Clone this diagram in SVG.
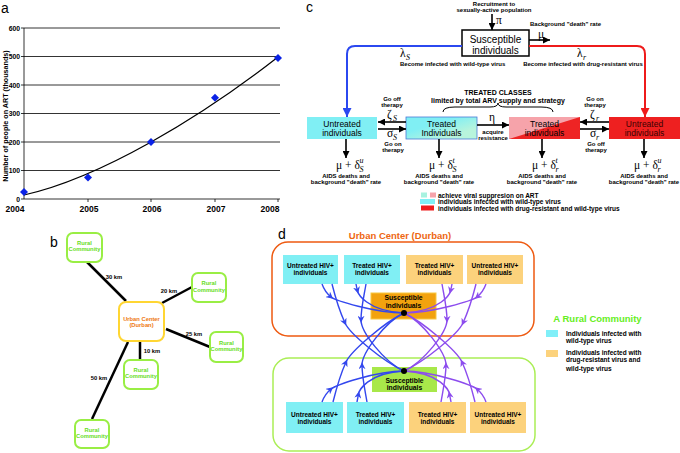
<svg xmlns="http://www.w3.org/2000/svg" width="680" height="453" viewBox="0 0 680 453">
<style>
text{font-family:"Liberation Sans",Arial,sans-serif;fill:#000}
.lbl{font-size:14px}
.bd{font-weight:bold}
.s6{font-size:6px;font-weight:bold}
.s65{font-size:6.5px;font-weight:bold}
.s7{font-size:7px;font-weight:bold}
.box8{font-size:8.5px}
.gr{font-family:"Liberation Serif","Times New Roman",serif;font-size:11.5px}
.gs{font-family:"Liberation Serif","Times New Roman",serif;font-size:8px;font-style:italic}
.mid{text-anchor:middle}
.rural{font-size:5.8px;font-weight:bold;fill:#66dd22;text-anchor:middle}
.urb{font-size:5.8px;font-weight:bold;fill:#ee7711;text-anchor:middle}
.km{font-size:5.8px;font-weight:bold;text-anchor:middle}
.dbox{font-size:6.5px;font-weight:bold;text-anchor:middle}
.grid{stroke:#000;stroke-width:0.8}
.ln{stroke:#000;stroke-width:2.5}
.rbox{fill:#fff;stroke:#99ee44;stroke-width:2}
.blk{stroke:#000;stroke-width:1.6;fill:none;marker-end:url(#ahK)}
.bc{stroke:#3347ee;stroke-width:1.4;fill:none;marker-mid:url(#amB)}
.pc{stroke:#8c4cee;stroke-width:1.4;fill:none;marker-mid:url(#amP)}
.cy{fill:#80eff4}
.or{fill:#fcd27c}
</style>
<defs>
<marker id="ahK" viewBox="0 0 10 10" refX="10" refY="5" markerWidth="7" markerHeight="7" markerUnits="userSpaceOnUse" orient="auto"><path d="M0,0 L10,5 L0,10 Z" fill="#000"/></marker>
<marker id="ahB" viewBox="0 0 10 10" refX="10" refY="5" markerWidth="9" markerHeight="9" markerUnits="userSpaceOnUse" orient="auto"><path d="M0,0 L10,5 L0,10 Z" fill="#2b48f0"/></marker>
<marker id="ahR" viewBox="0 0 10 10" refX="10" refY="5" markerWidth="9" markerHeight="9" markerUnits="userSpaceOnUse" orient="auto"><path d="M0,0 L10,5 L0,10 Z" fill="#ee1b1b"/></marker>
<marker id="amB" viewBox="0 0 10 10" refX="6" refY="5" markerWidth="7" markerHeight="7" markerUnits="userSpaceOnUse" orient="auto"><path d="M0,0 L10,5 L0,10 L3,5 Z" fill="#3347ee"/></marker>
<marker id="amP" viewBox="0 0 10 10" refX="6" refY="5" markerWidth="7" markerHeight="7" markerUnits="userSpaceOnUse" orient="auto"><path d="M0,0 L10,5 L0,10 L3,5 Z" fill="#8c4cee"/></marker>
<path id="dia" d="M0,-4 L4,0 L0,4 L-4,0 Z" fill="#0a22e6"/>
<linearGradient id="gT" x1="0" y1="0" x2="1" y2="1"><stop offset="0.35" stop-color="#80eff4"/><stop offset="0.75" stop-color="#b8f4dc"/></linearGradient>
</defs>
<rect width="680" height="453" fill="#fff"/>

<!-- Panel a -->
<g id="panel-a">
<text x="1" y="13" class="lbl">a</text>
<g class="grid">
<line x1="24" y1="28" x2="280" y2="28"/>
<line x1="24" y1="56.5" x2="280" y2="56.5"/>
<line x1="24" y1="85" x2="280" y2="85"/>
<line x1="24" y1="113.5" x2="280" y2="113.5"/>
<line x1="24" y1="142" x2="280" y2="142"/>
<line x1="24" y1="170.5" x2="280" y2="170.5"/>
<line x1="24" y1="28" x2="24" y2="199"/>
<line x1="24" y1="199" x2="280" y2="199"/>
<line x1="21" y1="28" x2="24" y2="28"/><line x1="21" y1="56.5" x2="24" y2="56.5"/><line x1="21" y1="85" x2="24" y2="85"/><line x1="21" y1="113.5" x2="24" y2="113.5"/><line x1="21" y1="142" x2="24" y2="142"/><line x1="21" y1="170.5" x2="24" y2="170.5"/><line x1="21" y1="199" x2="24" y2="199"/>
<line x1="88" y1="199" x2="88" y2="202"/><line x1="151" y1="199" x2="151" y2="202"/><line x1="215" y1="199" x2="215" y2="202"/><line x1="278" y1="199" x2="278" y2="202"/>
</g>
<g style="font-size:6.8px;font-weight:bold;text-anchor:end">
<text x="20" y="30.5">600</text><text x="20" y="59">500</text><text x="20" y="87.5">400</text><text x="20" y="116">300</text><text x="20" y="144.5">200</text><text x="20" y="173">100</text><text x="20" y="201.5">0</text>
</g>
<g style="font-size:8.5px;font-weight:bold;text-anchor:middle">
<text x="15" y="212">2004</text><text x="89" y="212">2005</text><text x="152" y="212">2006</text><text x="216" y="212">2007</text><text x="270" y="212">2008</text>
</g>
<text transform="translate(8,116) rotate(-90)" style="font-size:7.2px;font-weight:bold;text-anchor:middle">Number of people on ART (thousands)</text>
<path d="M24,195 C100,178 200,118 278,57" fill="none" stroke="#000" stroke-width="1.2"/>
<use href="#dia" x="24" y="192"/><use href="#dia" x="88" y="177.6"/><use href="#dia" x="151" y="142"/><use href="#dia" x="215" y="97.8"/><use href="#dia" x="278" y="57.9"/>
</g>

<!-- Panel b -->
<g id="panel-b">
<text x="50" y="247" class="lbl">b</text>
<g id="b-connectors">
<line class="ln" x1="87" y1="262" x2="126" y2="301"/>
<line class="ln" x1="162" y1="303" x2="192" y2="287"/>
<line class="ln" x1="166" y1="329" x2="210" y2="347"/>
<line class="ln" x1="140" y1="342" x2="140" y2="359"/>
<line class="ln" x1="128" y1="342" x2="92" y2="419"/>
<text x="114" y="279" class="km">30 km</text>
<text x="169" y="293" class="km">20 km</text>
<text x="194" y="336" class="km">25 km</text>
<text x="152" y="353" class="km">10 km</text>
<text x="99" y="379.5" class="km">50 km</text>
</g>
<g id="b-urban"><rect x="119" y="302" width="45" height="39" rx="7" fill="#fff" stroke="#ffd633" stroke-width="2"/><text x="141.5" y="320.5" class="urb">Urban Center</text><text x="141.5" y="327" class="urb">(Durban)</text></g>
<g id="b-rural1"><rect x="67" y="233" width="35" height="29" rx="6" class="rbox"/><text x="84.5" y="244.5" class="rural">Rural</text><text x="84.5" y="250.5" class="rural">Community</text></g>
<g id="b-rural2"><rect x="192" y="273" width="34" height="29" rx="6" class="rbox"/><text x="209" y="285" class="rural">Rural</text><text x="209" y="291.5" class="rural">Community</text></g>
<g id="b-rural3"><rect x="210" y="332" width="33" height="30" rx="6" class="rbox"/><text x="226.5" y="345" class="rural">Rural</text><text x="226.5" y="351" class="rural">Community</text></g>
<g id="b-rural4"><rect x="124" y="360" width="34" height="29" rx="6" class="rbox"/><text x="141" y="372" class="rural">Rural</text><text x="141" y="378" class="rural">Community</text></g>
<g id="b-rural5"><rect x="75" y="420" width="34" height="28" rx="6" class="rbox"/><text x="92" y="432" class="rural">Rural</text><text x="92" y="438" class="rural">Community</text></g>
</g>

<!-- Panel c -->
<g id="panel-c">
<text x="306" y="12" class="lbl">c</text>
<text x="494" y="5.5" class="s6 mid">Recruitment to</text>
<text x="494" y="12" class="s6 mid">sexually-active population</text>
<text x="530" y="26" class="s6">Background "death" rate</text>
<text x="400" y="66" class="s6">Become infected with wild-type virus</text>
<text x="583" y="65.5" class="s6 mid">Become infected with drug-resistant virus</text>
<text x="498" y="94.5" class="s7 mid">TREATED CLASSES</text>
<text x="498" y="102.5" class="s7 mid">limited by total ARV supply and strategy</text>
<path d="M443,112 Q443,107 455,107 H490 Q498,107 498,103 Q498,107 506,107 H541 Q553,107 553,112" fill="none" stroke="#000" stroke-width="1"/>

<g id="c-susceptible"><rect x="462" y="30" width="67" height="26" fill="#fff" stroke="#000" stroke-width="1.5"/><text x="495.5" y="43" class="mid" style="font-size:10px">Susceptible</text><text x="495.5" y="53.5" class="mid" style="font-size:10px">individuals</text></g>
<g id="c-untreated-s"><rect x="307" y="117" width="70" height="22" fill="#80eff4"/><text x="342" y="127" class="box8 mid">Untreated</text><text x="342" y="135.5" class="box8 mid">individuals</text></g>
<g id="c-treated-s"><rect x="406" y="117" width="71" height="22" fill="url(#gT)" stroke="#4a7ad8" stroke-width="0.8"/><text x="441.5" y="127" class="box8 mid">Treated</text><text x="441.5" y="135.5" class="box8 mid">Individuals</text></g>
<g id="c-treated-r"><rect x="509" y="117" width="71" height="22" fill="#f6a3aa"/><path d="M580,117 L580,139 L509,139 Z" fill="#ee2424"/><text x="544.5" y="127" class="box8 mid">Treated</text><text x="544.5" y="135.5" class="box8 mid">individuals</text></g>
<g id="c-untreated-r"><rect x="609" y="117" width="71" height="22" fill="#ee2020"/><text x="644.5" y="127" class="box8 mid" style="fill:#3a0000">Untreated</text><text x="644.5" y="135.5" class="box8 mid" style="fill:#3a0000">individuals</text></g>

<g id="c-connectors">
<path d="M462,46 H355 Q347,46 347,54 V117" stroke="#2b48f0" stroke-width="2" fill="none" marker-end="url(#ahB)"/>
<path d="M529,46 H637 Q645,46 645,54 V117" stroke="#ee1b1b" stroke-width="2" fill="none" marker-end="url(#ahR)"/>
<path class="blk" d="M492,14 V30"/>
<path class="blk" d="M529,40 H550"/>
<path class="blk" d="M406,122 H378"/>
<path class="blk" d="M378,129 H406"/>
<path class="blk" d="M477,125 H509"/>
<path class="blk" d="M609,122 H580"/>
<path class="blk" d="M580,129 H609"/>
<path class="blk" d="M346,139 V158"/>
<path class="blk" d="M439,139 V158"/>
<path class="blk" d="M542,139 V158"/>
<path class="blk" d="M644,139 V158"/>
</g>
<text x="496" y="24" class="gr">π</text>
<text x="538" y="37.5" class="gr">μ</text>
<text x="400" y="57" class="gr">λ</text><text x="406" y="60" class="gs">S</text>
<text x="577" y="57" class="gr">λ</text><text x="583" y="60" class="gs">r</text>
<text x="392" y="101" class="s6 mid">Go off</text><text x="392" y="107" class="s6 mid">therapy</text>
<text x="387" y="118" class="gr">ζ</text><text x="393" y="121" class="gs">S</text>
<text x="387" y="137" class="gr">σ</text><text x="393" y="140" class="gs">S</text>
<text x="393" y="146" class="s6 mid">Go on</text><text x="393" y="152" class="s6 mid">therapy</text>
<text x="489" y="121" class="gr">η</text>
<text x="493" y="133.5" class="s6 mid">acquire</text><text x="493" y="139.5" class="s6 mid">resistance</text>
<text x="595" y="101" class="s6 mid">Go on</text><text x="595" y="107" class="s6 mid">therapy</text>
<text x="590" y="118" class="gr">ζ</text><text x="596" y="121" class="gs">r</text>
<text x="590" y="137" class="gr">σ</text><text x="596" y="140" class="gs">r</text>
<text x="596" y="146" class="s6 mid">Go off</text><text x="596" y="152" class="s6 mid">therapy</text>

<text x="336" y="169" class="gr">μ + δ</text><text x="359.5" y="163" class="gs">u</text><text x="359.5" y="172" class="gs">S</text>
<text x="429" y="169" class="gr">μ + δ</text><text x="452.5" y="163" class="gs">t</text><text x="452.5" y="172" class="gs">S</text>
<text x="532" y="169" class="gr">μ + δ</text><text x="555.5" y="163" class="gs">t</text><text x="555.5" y="172" class="gs">r</text>
<text x="634" y="169" class="gr">μ + δ</text><text x="657.5" y="163" class="gs">u</text><text x="657.5" y="172" class="gs">r</text>
<text x="346" y="177.5" class="s6 mid">AIDS deaths and</text><text x="346" y="183.5" class="s6 mid">background "death" rate</text>
<text x="439" y="177.5" class="s6 mid">AIDS deaths and</text><text x="439" y="183.5" class="s6 mid">background "death" rate</text>
<text x="542" y="177.5" class="s6 mid">AIDS deaths and</text><text x="542" y="183.5" class="s6 mid">background "death" rate</text>
<text x="644" y="177.5" class="s6 mid">AIDS deaths and</text><text x="644" y="183.5" class="s6 mid">background "death" rate</text>

<g id="c-legend">
<rect x="421" y="192.5" width="6" height="5" fill="#a8f2e0"/><rect x="430" y="192.5" width="6" height="5" fill="#f6a3aa"/>
<text x="438" y="197.5" class="s65">achieve viral suppresion on ART</text>
<rect x="420" y="199" width="15" height="5" fill="#80eff4"/>
<text x="438" y="204" class="s65">individuals infected with wild-type virus</text>
<rect x="421" y="205.5" width="13" height="5" fill="#ee1b1b"/>
<text x="438" y="210.5" class="s65">individuals infected with drug-resistant and wild-type virus</text>
</g>
</g>

<!-- Panel d -->
<g id="panel-d">
<text x="278" y="239" class="lbl">d</text>
<g id="d-urban-center"><rect x="272" y="242" width="262" height="94" rx="16" fill="none" stroke="#ee5a11" stroke-width="1.5"/><text x="400" y="239" class="mid bd" style="font-size:9.5px;fill:#ee6611">Urban Center (Durban)</text></g>
<g id="d-rural-community"><rect x="273" y="358" width="262" height="93" rx="16" fill="none" stroke="#aaee55" stroke-width="1.5"/></g>

<g id="d-u-untreated-wt"><rect x="283" y="255" width="55" height="29" class="cy"/><text x="310.5" y="268" class="dbox">Untreated HIV+</text><text x="310.5" y="275" class="dbox">individuals</text></g>
<g id="d-u-treated-wt"><rect x="344" y="255" width="56" height="29" class="cy"/><text x="372" y="268" class="dbox">Treated HIV+</text><text x="372" y="275" class="dbox">individuals</text></g>
<g id="d-u-treated-dr"><rect x="406" y="255" width="57" height="29" class="or"/><text x="434.5" y="268" class="dbox">Treated HIV+</text><text x="434.5" y="275" class="dbox">individuals</text></g>
<g id="d-u-untreated-dr"><rect x="467" y="255" width="56" height="29" class="or"/><text x="495" y="268" class="dbox">Untreated HIV+</text><text x="495" y="275" class="dbox">individuals</text></g>
<g id="d-u-susceptible"><rect x="371" y="293" width="65" height="26" fill="#f2a20e" stroke="#f8c840" stroke-width="1"/><text x="403.5" y="300" class="dbox" style="font-size:6.8px">Susceptible</text><text x="403.5" y="307.5" class="dbox" style="font-size:6.8px">individuals</text></g>

<g id="d-r-untreated-wt"><rect x="286" y="402" width="57" height="31" class="cy"/><text x="314.5" y="416.5" class="dbox">Untreated HIV+</text><text x="314.5" y="423.5" class="dbox">individuals</text></g>
<g id="d-r-treated-wt"><rect x="347" y="402" width="57" height="31" class="cy"/><text x="375.5" y="416.5" class="dbox">Treated HIV+</text><text x="375.5" y="423.5" class="dbox">individuals</text></g>
<g id="d-r-treated-dr"><rect x="409" y="402" width="57" height="31" class="or"/><text x="437.5" y="416.5" class="dbox">Treated HIV+</text><text x="437.5" y="423.5" class="dbox">individuals</text></g>
<g id="d-r-untreated-dr"><rect x="470" y="402" width="56" height="31" class="or"/><text x="498" y="416.5" class="dbox">Untreated HIV+</text><text x="498" y="423.5" class="dbox">individuals</text></g>
<g id="d-r-susceptible"><rect x="372" y="367" width="65" height="25" fill="#a8e84a"/><text x="404.5" y="382.5" class="dbox" style="font-size:6.8px">Susceptible</text><text x="404.5" y="390" class="dbox" style="font-size:6.8px">individuals</text></g>

<g id="d-connectors">
<path class="bc" d="M322,284 C324.5,291 327,293.7 331,297 S375,313 404,313"/>
<path class="bc" d="M332,284 C336,300 340,312 345,323 S384,362 404,371"/>
<path class="bc" d="M356,284 C356.5,287 357,289 357.5,291 S366,311 404,313"/>
<path class="bc" d="M366,284 C364,296 361,308 361,320 S384,362 404,371"/>
<path class="bc" d="M322,402 C324.5,395 327,392.3 331,389 S375,371 404,371"/>
<path class="bc" d="M333,402 C337,386 341,373 346,362 S385,322 404,313"/>
<path class="bc" d="M357,402 C357.5,399 358,397 358.5,394 S367,373 404,371"/>
<path class="bc" d="M367,402 C365,390 362,377 362,365 S385,322 404,313"/>
<path class="pc" d="M486,284 C483.5,291 481,293.7 477,297 S433,313 404,313"/>
<path class="pc" d="M476,284 C472,300 468,312 463,323 S424,362 404,371"/>
<path class="pc" d="M452,284 C451.5,287 451,289 450.5,291 S442,311 404,313"/>
<path class="pc" d="M442,284 C444,296 447,308 447,320 S424,362 404,371"/>
<path class="pc" d="M486,402 C483.5,395 481,392.3 477,389 S433,371 404,371"/>
<path class="pc" d="M475,402 C471,386 467,373 462,362 S423,322 404,313"/>
<path class="pc" d="M451,402 C450.5,399 450,397 449.5,394 S441,373 404,371"/>
<path class="pc" d="M441,402 C443,390 446,377 446,365 S423,322 404,313"/>
<circle cx="404" cy="313" r="3" fill="#000"/>
<circle cx="404" cy="371" r="3" fill="#000"/>
</g>

<g id="d-legend">
<text x="597.5" y="322" class="mid bd" style="font-size:9.5px;fill:#66ee22">A Rural Community</text>
<rect x="546" y="330" width="12" height="7" fill="#80eff8"/>
<text x="566" y="335.6" class="s65">Individuals infected with</text>
<text x="566" y="343" class="s65">wild-type virus</text>
<rect x="546" y="350" width="12" height="7" fill="#fcd27c"/>
<text x="566" y="355" class="s65">Individuals infected with</text>
<text x="566" y="362.3" class="s65">drug-resistant virus and</text>
<text x="566" y="370.6" class="s65">wild-type virus</text>
</g>
</g>
</svg>
